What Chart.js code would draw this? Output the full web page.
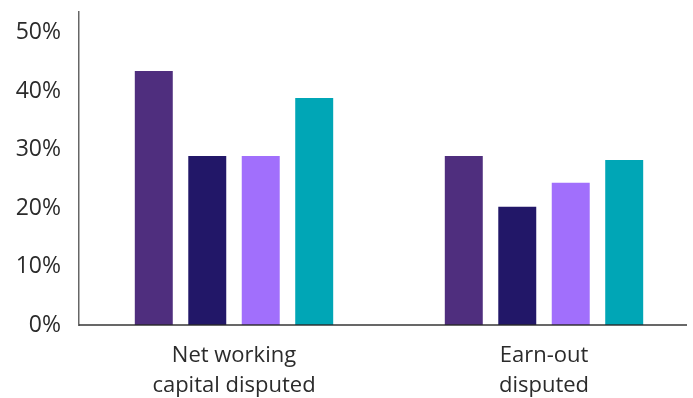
<!DOCTYPE html>
<html>
<head>
    <meta charset="UTF-8">
    <script src="https://cdn.jsdelivr.net/npm/chart.js"></script>
    <style>
        html, body {
            margin: 0;
            padding: 0;
            background: #fff;
            overflow: hidden;
        }
        #chart-container {
            width: 699px;
            height: 398px;
        }
    </style>
</head>
<body>
    <div id="chart-container">
        <canvas id="myChart"></canvas>
    </div>

    <script>
        const categories = [['Net working', 'capital disputed'], ['Earn-out', 'disputed']];
        const seriesA = [43.4, 28.9];
        const seriesB = [28.9, 20.2];
        const seriesC = [28.9, 24.3];
        const seriesD = [38.8, 28.2];
        const yTicks = [0, 10, 20, 30, 40, 50];

        const colors = ['#4F2E7E', '#221768', '#A16FFC', '#00A6B6'];

        // bottom axis line, drawn over the bars
        const baseline = {
            id: 'baseline',
            afterDatasetsDraw(chart) {
                const { ctx, chartArea } = chart;
                const y = chart.scales.y.getPixelForValue(0);
                ctx.save();
                ctx.strokeStyle = 'rgba(40, 40, 40, 0.7)';
                ctx.lineWidth = 2;
                ctx.beginPath();
                ctx.moveTo(chartArea.left, y);
                ctx.lineTo(chartArea.right - 12, y);
                ctx.stroke();
                ctx.restore();
            }
        };

        const ctx = document.getElementById('myChart').getContext('2d');
        new Chart(ctx, {
            type: 'bar',
            data: {
                labels: categories,
                datasets: [seriesA, seriesB, seriesC, seriesD].map((d, i) => ({
                    data: d,
                    backgroundColor: colors[i],
                    categoryPercentage: 0.69,
                    barPercentage: 0.71
                }))
            },
            options: {
                responsive: true,
                maintainAspectRatio: false,
                animation: false,
                layout: { padding: { top: 12, right: 0, left: 0, bottom: 0 } },
                plugins: {
                    legend: { display: false },
                    tooltip: { enabled: false }
                },
                scales: {
                    x: {
                        grid: { display: false, drawTicks: false },
                        border: { display: false },
                        ticks: {
                            padding: 15,
                            color: '#2b2b2b',
                            font: { family: 'Open Sans', size: 22, lineHeight: 1.4 },
                            maxRotation: 0
                        },
                        afterFit(scale) { scale.height = 73; }
                    },
                    y: {
                        min: 0,
                        max: 53.5,
                        grid: { display: false, drawTicks: false },
                        border: { display: true, color: '#666', width: 1.5 },
                        afterBuildTicks(scale) {
                            scale.ticks = yTicks.map(v => ({ value: v }));
                        },
                        ticks: {
                            padding: 18,
                            color: '#2b2b2b',
                            font: { family: 'Open Sans', size: 23 },
                            callback: v => v + '%'
                        },
                        afterFit(scale) {
                            scale.width = 79;
                            scale.paddingTop = 0;
                            scale.paddingBottom = 0;
                        }
                    }
                }
            },
            plugins: [baseline]
        });
    </script>
</body>
</html>
